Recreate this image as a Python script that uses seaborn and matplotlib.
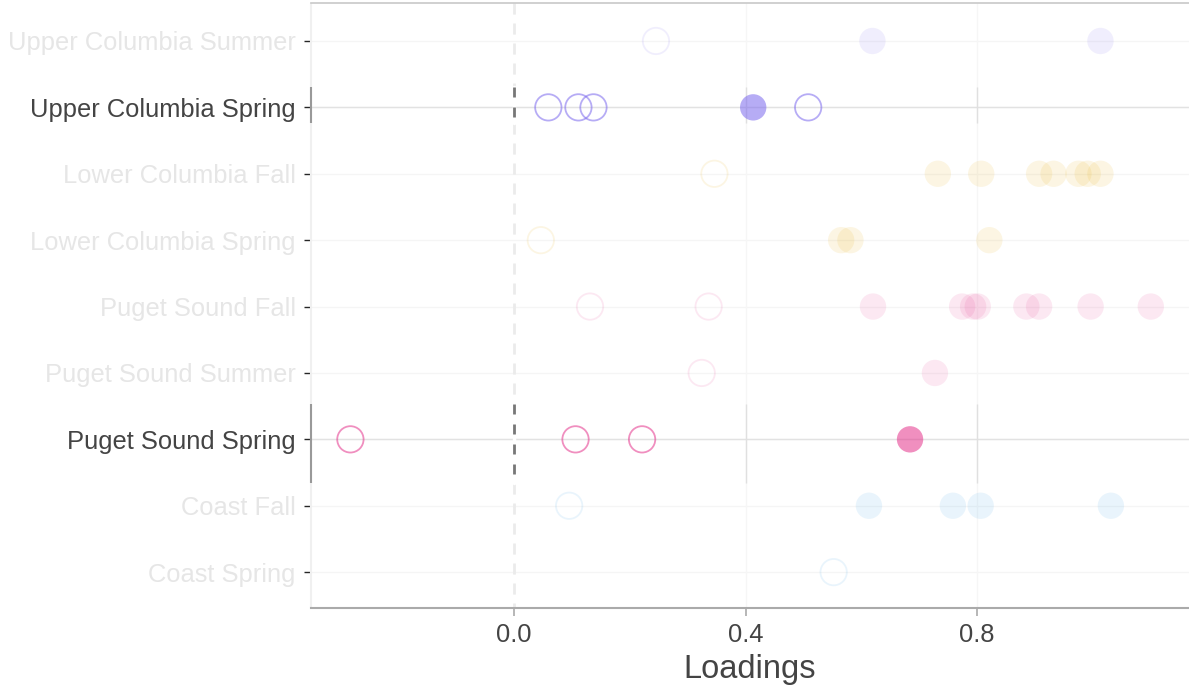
import numpy as np
import pandas as pd
import matplotlib
matplotlib.use("Agg")
import matplotlib.pyplot as plt
import seaborn as sns

# rows, top to bottom
regions = ["Upper Columbia Summer", "Upper Columbia Spring", "Lower Columbia Fall",
           "Lower Columbia Spring", "Puget Sound Fall", "Puget Sound Summer",
           "Puget Sound Spring", "Coast Fall", "Coast Spring"]
groups = ["Upper Columbia", "Upper Columbia", "Lower Columbia", "Lower Columbia",
          "Puget Sound", "Puget Sound", "Puget Sound", "Coast", "Coast"]

# open circles / filled circles, per row
open_vals = [
    [0.245],
    [0.059, 0.111, 0.137, 0.508],
    [0.346],
    [0.046],
    [0.131, 0.336],
    [0.324],
    [-0.283, 0.106, 0.221],
    [0.095],
    [0.552],
]
filled_vals = [
    [0.619, 1.013],
    [0.413],
    [0.732, 0.807, 0.907, 0.932, 0.975, 0.991, 1.013],
    [0.565, 0.581, 0.821],
    [0.620, 0.774, 0.793, 0.801, 0.885, 0.907, 0.996, 1.100],
    [0.727],
    [0.684],
    [0.613, 0.758, 0.806, 1.031],
    [],
]
highlight = ["Upper Columbia Spring", "Puget Sound Spring"]
x_ticks = [0.0, 0.4, 0.8]
x_label = "Loadings"

palette = {"Upper Columbia": "#7b68ee", "Lower Columbia": "#e6ab02",
           "Puget Sound": "#e4338c", "Coast": "#3ba3e6"}
# half heights of the highlighted band (above, below)
band = {"Upper Columbia Spring": (0.30, 0.23), "Puget Sound Spring": (0.54, 0.65)}

rows = []
for i, r in enumerate(regions):
    for v in open_vals[i]:
        rows.append((r, groups[i], i, v, "open"))
    for v in filled_vals[i]:
        rows.append((r, groups[i], i, v, "filled"))
df = pd.DataFrame(rows, columns=["region", "group", "pos", "loading", "kind"])

sns.set_theme(style="white")
plt.rcParams["font.family"] = ["Liberation Sans", "DejaVu Sans"]

fig = plt.figure(figsize=(11.89, 6.89), dpi=100)
ax = fig.add_axes([0.2616, 81 / 689, 1 - 0.2616, 605 / 689])
xmin, xmax = -0.351, 1.166
ytop, ybot = -0.572, 8.54
ax.set_xlim(xmin, xmax)
ax.set_ylim(ybot, ytop)
dash = (0, (4, 3.2))

# faded background decorations
ax.hlines(range(len(regions)), xmin, xmax, color="#f5f5f5", lw=1, zorder=0)
ax.vlines([0.4, 0.8], ybot, ytop, color="#f6f6f6", lw=1, zorder=0)
ax.plot([0, 0], [ytop, ybot], color="#ebebeb", lw=2, ls=dash, zorder=1)
ax.vlines(xmin, ybot, ytop, color="#f0f0f0", lw=1.5, zorder=1, clip_on=False)

# highlighted bands
for r in highlight:
    i = regions.index(r)
    up, dn = band[r]
    ax.hlines(i, xmin, xmax, color="#e2e2e2", lw=1, zorder=0.5)
    ax.vlines([0.4, 0.8], i - up, i + dn, color="#e0e0e0", lw=1, zorder=0.5)
    ax.plot([0, 0], [i - up, i + dn], color="#ffffff", lw=2.5, zorder=1.2)
    ax.plot([0, 0], [i - up, i + dn], color="#777777", lw=2, ls=(0, (3.6, 3.6)), zorder=1.5)
    ax.vlines(xmin, i - up, i + dn, color="#999999", lw=1.5, zorder=1.5, clip_on=False)

for i, r in enumerate(regions):
    alpha = 0.55 if r in highlight else 0.11
    col = palette[groups[i]]
    sub = df[df["region"] == r]
    f = sub[sub["kind"] == "filled"]
    o = sub[sub["kind"] == "open"]
    if len(f):
        sns.scatterplot(data=f, x="loading", y="pos", ax=ax, s=360, color=col,
                        alpha=alpha, edgecolor="none", legend=False, zorder=3)
    if len(o):
        sns.scatterplot(data=o, x="loading", y="pos", ax=ax, s=360, facecolor="none",
                        edgecolor=col, linewidth=1.3, alpha=alpha, legend=False, zorder=3)

ax.set_yticks(range(len(regions)))
ax.set_yticklabels(regions, fontsize=18.4)
ax.set_xticks(x_ticks)
ax.set_xticklabels([f"{t:.1f}" for t in x_ticks], fontsize=18.4, color="#444444")
ax.set_xlabel(x_label, fontsize=23.5, color="#444444", labelpad=5)
ax.set_ylabel("")

for lab, tick, r in zip(ax.get_yticklabels(), ax.yaxis.get_major_ticks(), regions):
    hl = r in highlight
    lab.set_color("#444444" if hl else "#e6e6e6")
    tick.tick1line.set_color("#999999" if hl else "#eeeeee")
ax.tick_params(axis="y", length=5, width=1, left=True, pad=6)
ax.tick_params(axis="x", length=6, width=1.2, bottom=True, color="#aaaaaa", pad=5)

for s in ["left", "right"]:
    ax.spines[s].set_visible(False)
ax.spines["bottom"].set_color("#aaaaaa")
ax.spines["bottom"].set_linewidth(1.5)
ax.spines["top"].set_color("#c8c8c8")
ax.spines["top"].set_linewidth(1.2)
ax.grid(False)

fig.savefig("out.png", dpi=100)
